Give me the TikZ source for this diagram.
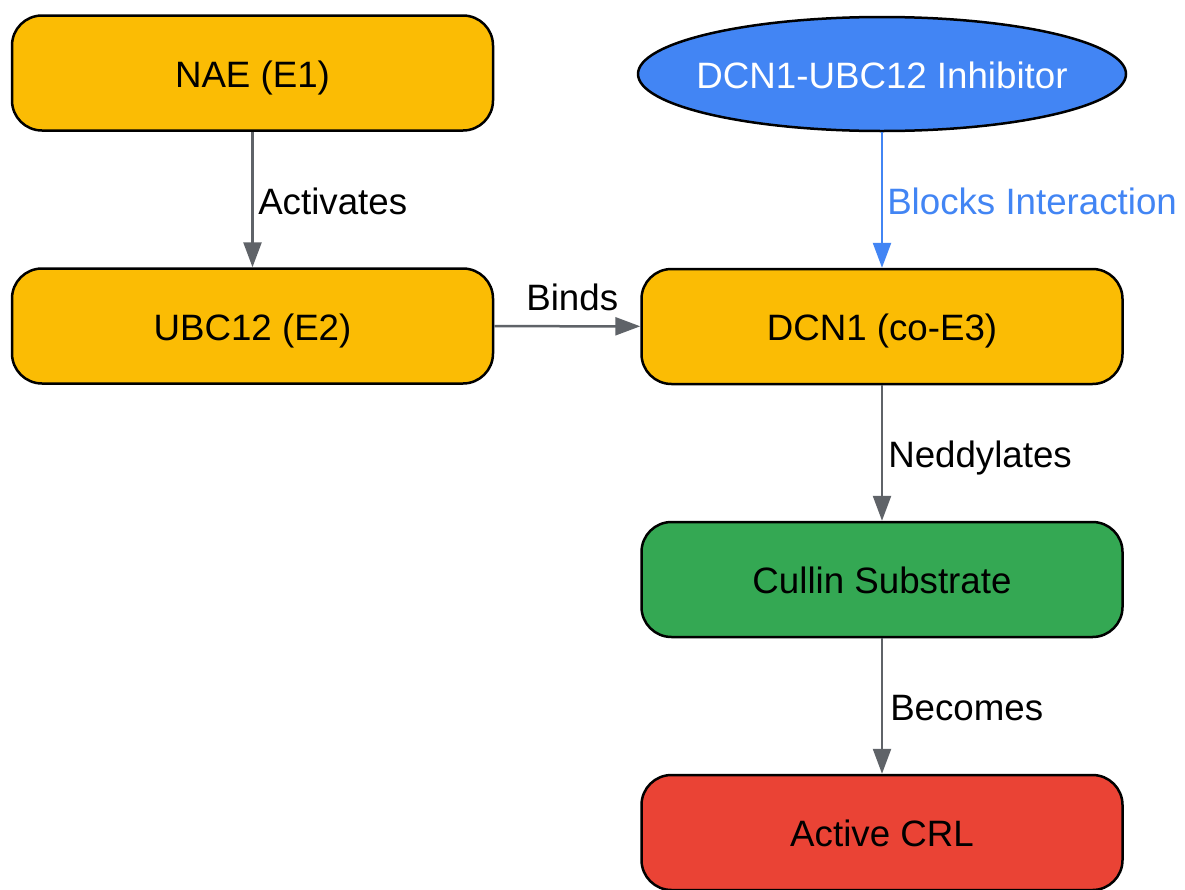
\documentclass[tikz,border=0pt]{standalone}
\usepackage{fontspec}
\setmainfont{Liberation Sans}
\usetikzlibrary{arrows.meta,shapes.geometric}
\definecolor{gyellow}{HTML}{FBBC04}
\definecolor{gblue}{HTML}{4285F4}
\definecolor{ggreen}{HTML}{34A853}
\definecolor{gred}{HTML}{EA4335}
\definecolor{ggray}{HTML}{5F6368}
\begin{document}
\begin{tikzpicture}[x=1pt,y=-1pt,
  box/.style={draw=black, line width=2.5pt, rounded corners=30pt,
    minimum width=481pt, minimum height=115pt, inner sep=0pt,
    text height=28pt, text depth=0pt, font=\fontsize{36.7}{44}\selectfont},
  oval/.style={ellipse, draw=black, line width=2.5pt, fill=gblue, text=white,
    minimum width=488pt, minimum height=114pt, inner sep=0pt,
    text height=28pt, text depth=0pt, font=\fontsize{36.7}{44}\selectfont},
  arr/.style={draw=ggray, line width=2.5pt, -{Triangle[length=25pt,width=18pt]}},
  barr/.style={draw=gblue, line width=2.5pt, -{Triangle[length=25pt,width=18pt]}},
  lbl/.style={inner sep=0pt, text height=27pt, text depth=0pt,
    font=\fontsize{36.7}{44}\selectfont}
]
\useasboundingbox (0,0) rectangle (1185,889);
\fill[white] (0,0) rectangle (1185,889);

\node[box, fill=gyellow] (nae) at (252.5,73) {NAE (E1)};
\node[box, fill=gyellow] (ubc) at (252.5,326) {UBC12 (E2)};
\node[oval] (inh) at (882,74) {\makebox[0pt]{DCN1-UBC12 Inhibitor}};
\node[box, fill=gyellow] (dcn) at (882,326.5) {DCN1 (co-E3)};
\node[box, fill=ggreen] (cul) at (882,579.5) {Cullin Substrate};
\node[box, fill=gred] (crl) at (882,832.5) {Active CRL};

\draw[arr] (nae) -- node[lbl, anchor=west, xshift=4.5pt, yshift=-1pt] (l1) {Activates} (ubc);
\draw[barr] (inh) -- node[lbl, anchor=west, xshift=4pt, yshift=-1pt, text=gblue] (l2) {Blocks Interaction} (dcn);
\draw[arr] (ubc) -- node[lbl, anchor=south, xshift=5pt, yshift=15pt] (l3) {Binds} (dcn);
\draw[arr] (dcn) -- node[lbl, anchor=west, xshift=5pt, yshift=-1pt] (l4) {Neddylates} (cul);
\draw[arr] (cul) -- node[lbl, anchor=west, xshift=7pt, yshift=-1pt] (l5) {Becomes} (crl);
\end{tikzpicture}
\end{document}
